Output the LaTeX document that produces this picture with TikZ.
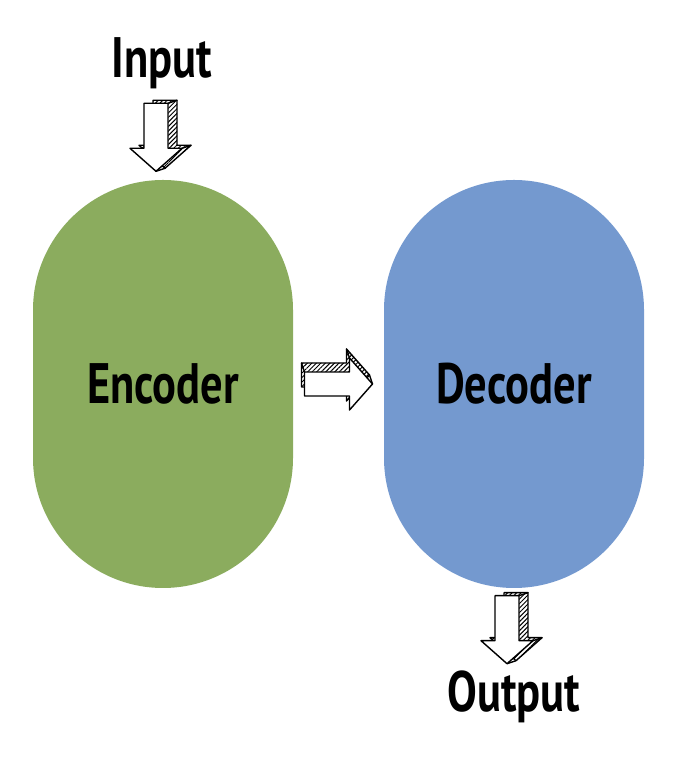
\documentclass[tikz,border=0pt]{standalone}
\usepackage{fontspec}
\newfontfamily\handfont{PT Sans}[FakeStretch=0.78]
\usetikzlibrary{patterns.meta}
\usetikzlibrary{calc}

\definecolor{encgreen}{RGB}{139,172,94}
\definecolor{decblue}{RGB}{116,153,207}

\def\arrowoutline{(-34,-12) -- (11,-12) -- (11,-26) -- (34,0) -- (11,26) -- (11,12) -- (-34,12) -- cycle}

\tikzset{
	hand/.style={font=\handfont\bfseries\fontsize{57}{60}\selectfont},
	blob/.style={hand, minimum width=260pt, minimum height=408pt, rounded corners=130pt, inner sep=0pt},
	word/.style={hand, inner sep=0pt, anchor=base},
	hatch/.style={pattern={Lines[angle=45, distance=3.2pt, line width=1pt]}},
	sketcharrow/.pic={
		\filldraw[hatch, shift={(-3,9)}] \arrowoutline; % back side
		\draw (-34,12) -- ++(-3,9) (11,26) -- ++(-3,9) (34,0) -- ++(-3,9);
		\filldraw[fill=white] \arrowoutline; % front
	}
}

\begin{document}
\begin{tikzpicture}[x=1pt, y=1pt, line width=1.4pt, line join=round, line cap=round]
		\useasboundingbox (0,0) rectangle (690,770);
		
		\node[blob, fill=encgreen] (enc) at (163,386) {Encoder};
		\node[blob, fill=decblue] (dec) at (514,386) {Decoder};
		
		\node[word] (in) at (162,692) {Input};
		\node[word] (out) at (514,58) {Output};
		
		\pic[rotate=-90] (inarrow) at ($(enc.north)+(-7,42)$) {sketcharrow}; % Input -> Encoder
		\pic (midarrow) at ($(enc.east)!0.5!(dec.west)$) {sketcharrow}; % Encoder -> Decoder
		\pic[rotate=-90] (outarrow) at ($(dec.south)+(-7,-41)$) {sketcharrow}; % Decoder -> Output
\end{tikzpicture}
\end{document}
